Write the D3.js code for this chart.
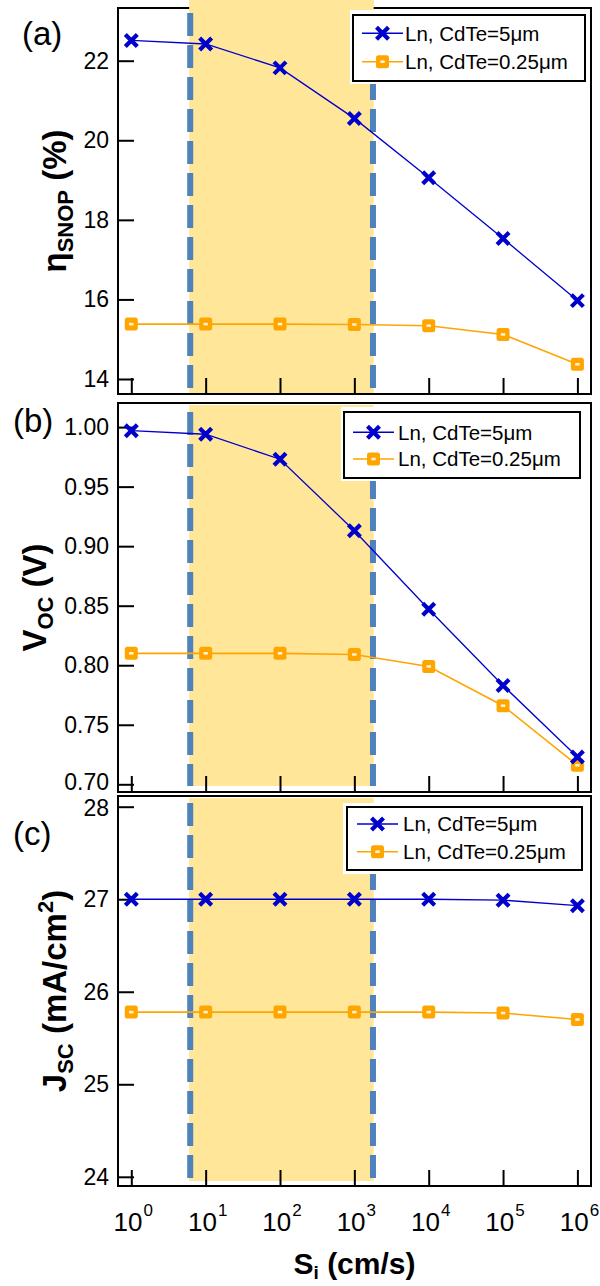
<!DOCTYPE html>
<html><head><meta charset="utf-8">
<script src="https://cdn.jsdelivr.net/npm/d3@7"></script>
<style>body{margin:0;background:#fff}</style>
</head><body>
<svg id="chart" width="600" height="1286"></svg>
<script>
// ---------------- data ----------------
const sValues = [1, 10, 100, 1000, 10000, 100000, 1000000];
const xTickExponents = ["0", "1", "2", "3", "4", "5", "6"];
const seriesNames = ["Ln, CdTe=5\u03bcm", "Ln, CdTe=0.25\u03bcm"];
const etaThick = [22.51, 22.42, 21.82, 20.55, 19.06, 17.53, 15.97];
const etaThin  = [15.38, 15.38, 15.38, 15.37, 15.34, 15.12, 14.37];
const vocThick = [0.997, 0.994, 0.973, 0.913, 0.847, 0.783, 0.723];
const vocThin  = [0.810, 0.810, 0.810, 0.809, 0.799, 0.766, 0.716];
const jscThick = [27.00, 27.00, 27.00, 27.00, 27.00, 26.99, 26.93];
const jscThin  = [25.78, 25.78, 25.78, 25.78, 25.78, 25.77, 25.70];
const etaTicks = [14, 16, 18, 20, 22];
const vocTicks = [0.70, 0.75, 0.80, 0.85, 0.90, 0.95, 1.00];
const jscTicks = [24, 25, 26, 27, 28];
const shadeRange = [6, 1820];
const dashPositions = [6.2, 1780];
const panelLetters = ["(a)", "(b)", "(c)"];

// ---------------- style ----------------
const FONT = "'Liberation Sans', Arial, sans-serif";
const BLUE = "#0000cc";
const ORANGE = "#ffa500";
const SHADE = "#ffe699";
const DASH = "#4f81bd";

const svg = d3.select("#chart");
const FL = 118, FR = 591;
const x = d3.scaleLog().domain([1, 1e6]).range([131.3, 577.4]);

const panels = [
  { top: 8, bottom: 394, thick: etaThick, thin: etaThin, ticks: etaTicks, fmt: d3.format("d"),
    y: d3.scaleLinear().domain([14, 22]).range([379, 60.7]), lowShift: 0, highShift: 0,
    shadeTop: 0, shadeBot: 393, dashTop: 13, dashBot: 389,
    letter: { x: 22, y: 45 },
    title: { x: 66, parts: [["\u03b7", 0], ["SNOP", 1], [" (%)", -1]] },
    legend: { bg: [350, 10, 240, 74], box: [353, 15, 232, 66], line: [362, 403], rows: [33.3, 61.7], tx: 405 } },
  { top: 403, bottom: 792, thick: vocThick, thin: vocThin, ticks: vocTicks, fmt: d3.format(".2f"),
    y: d3.scaleLinear().domain([0.70, 1.00]).range([784.3, 427.1]), lowShift: -2.5, highShift: 0,
    shadeTop: 405, shadeBot: 786, dashTop: 412, dashBot: 786,
    letter: { x: 13, y: 432 },
    title: { x: 46, parts: [["V", 0], ["OC", 1], [" (V)", -1]] },
    legend: { bg: [341, 407, 245, 74], box: [344, 412, 236, 66], line: [353, 394], rows: [432.3, 459], tx: 398 } },
  { top: 796, bottom: 1186, thick: jscThick, thin: jscThin, ticks: jscTicks, fmt: d3.format("d"),
    y: d3.scaleLinear().domain([24, 28]).range([1176.8, 806.7]), lowShift: 0, highShift: 1.8,
    shadeTop: 798, shadeBot: 1181, dashTop: 803, dashBot: 1182,
    letter: { x: 13, y: 845 },
    title: { x: 66, parts: [["J", 0], ["SC", 1], [" (mA/cm", -1], ["2", 2], [")", -2]] },
    legend: { bg: [343, 803, 243, 71], box: [347, 807, 235, 63], line: [357, 398], rows: [824, 851.7], tx: 403 } }
];

function drawX(g, cx, cy, s) {
  g.append("path")
    .attr("d", `M${cx - s},${cy - s}L${cx + s},${cy + s}M${cx - s},${cy + s}L${cx + s},${cy - s}`)
    .attr("stroke", BLUE).attr("stroke-width", 4.2).attr("fill", "none");
}
function drawSq(g, cx, cy) {
  g.append("rect").attr("x", cx - 6.5).attr("y", cy - 6.5).attr("width", 13).attr("height", 13)
    .attr("rx", 2.5).attr("fill", ORANGE);
  g.append("rect").attr("x", cx - 2.2).attr("y", cy - 1.3).attr("width", 4.4).attr("height", 2.6)
    .attr("fill", "#fff").attr("opacity", 0.85);
}

panels.forEach((p, i) => {
  const g = svg.append("g");
  const cy = (p.top + p.bottom) / 2;

  // shaded interval
  g.append("rect")
    .attr("x", x(shadeRange[0])).attr("y", p.shadeTop)
    .attr("width", x(shadeRange[1]) - x(shadeRange[0])).attr("height", p.shadeBot - p.shadeTop)
    .attr("fill", SHADE);

  // frame
  g.append("rect").attr("x", FL).attr("y", p.top).attr("width", FR - FL).attr("height", p.bottom - p.top)
    .attr("fill", "none").attr("stroke", "#000").attr("stroke-width", 2);
  if (i === 0) {
    g.append("rect")
      .attr("x", x(shadeRange[0])).attr("y", p.shadeTop)
      .attr("width", x(shadeRange[1]) - x(shadeRange[0])).attr("height", 10)
      .attr("fill", SHADE);
  }

  // dashed boundaries
  dashPositions.forEach(v => {
    g.append("line").attr("x1", x(v)).attr("x2", x(v)).attr("y1", p.dashTop).attr("y2", p.dashBot)
      .attr("stroke", DASH).attr("stroke-width", 6).attr("stroke-dasharray", "23,9");
  });

  // y axis
  const ya = g.append("g").attr("transform", `translate(${FL},0)`)
    .call(d3.axisLeft(p.y).tickValues(p.ticks).tickFormat(p.fmt).tickSize(-16).tickPadding(9));
  ya.select(".domain").remove();
  ya.selectAll(".tick line").attr("stroke", "#000").attr("stroke-width", 2);
  const lo = d3.min(p.ticks), hi = d3.max(p.ticks);
  ya.selectAll(".tick text").attr("font-family", FONT).attr("font-size", 23).attr("fill", "#000")
    .attr("y", d => d === lo ? p.lowShift : (d === hi ? p.highShift : 0));

  // x axis
  const xa = g.append("g").attr("transform", `translate(0,${p.bottom})`)
    .call(d3.axisBottom(x).tickValues(sValues).tickFormat("").tickSize(-16));
  xa.select(".domain").remove();
  xa.selectAll(".tick line").attr("stroke", "#000").attr("stroke-width", 2);
  xa.selectAll(".tick text").remove();

  // series
  const line = d3.line().x((d, k) => x(sValues[k])).y(d => p.y(d));
  g.append("path").attr("d", line(p.thin)).attr("fill", "none").attr("stroke", ORANGE).attr("stroke-width", 1.6);
  g.append("path").attr("d", line(p.thick)).attr("fill", "none").attr("stroke", BLUE).attr("stroke-width", 1.3);
  p.thin.forEach((d, k) => drawSq(g, x(sValues[k]), p.y(d)));
  p.thick.forEach((d, k) => drawX(g, x(sValues[k]), p.y(d), 6));

  // legend
  const L = p.legend;
  g.append("rect").attr("x", L.bg[0]).attr("y", L.bg[1]).attr("width", L.bg[2]).attr("height", L.bg[3]).attr("fill", "#fff");
  g.append("rect").attr("x", L.box[0]).attr("y", L.box[1]).attr("width", L.box[2]).attr("height", L.box[3])
    .attr("fill", "#fff").attr("stroke", "#000").attr("stroke-width", 2);
  const mid = (L.line[0] + L.line[1]) / 2;
  [0, 1].forEach(k => {
    const yy = L.rows[k];
    g.append("line").attr("x1", L.line[0]).attr("x2", L.line[1]).attr("y1", yy).attr("y2", yy)
      .attr("stroke", k === 0 ? BLUE : ORANGE).attr("stroke-width", 1.6);
    if (k === 0) drawX(g, mid, yy, 6); else drawSq(g, mid, yy);
    g.append("text").attr("x", L.tx).attr("y", yy).attr("dy", "0.36em")
      .attr("font-family", FONT).attr("font-size", 20.5).attr("fill", "#000").text(seriesNames[k]);
  });

  // panel letter
  g.append("text").attr("x", p.letter.x).attr("y", p.letter.y)
    .attr("font-family", FONT).attr("font-size", 33).attr("fill", "#000").text(panelLetters[i]);

  // y title
  const t = g.append("text").attr("transform", `translate(${p.title.x},${cy}) rotate(-90)`)
    .attr("text-anchor", "middle").attr("font-family", FONT).attr("font-weight", "bold")
    .attr("font-size", 33).attr("fill", "#000");
  p.title.parts.forEach(([s, mode]) => {
    const ts = t.append("tspan").text(s);
    if (mode === 1) ts.attr("font-size", 22).attr("dy", 7);
    if (mode === -1) ts.attr("dy", -7);
    if (mode === 2) ts.attr("font-size", 22).attr("dy", -13);
    if (mode === -2) ts.attr("dy", 13);
  });
});

// x tick labels (bottom panel)
const xl = svg.append("g");
sValues.forEach((v, k) => {
  const t = xl.append("text").attr("x", x(v) + 2).attr("y", 1231).attr("text-anchor", "middle")
    .attr("font-family", FONT).attr("font-size", 26).attr("fill", "#000");
  t.append("tspan").text("10");
  t.append("tspan").attr("font-size", 17).attr("dy", -15).attr("dx", 1).text(xTickExponents[k]);
});

// x title
const xt = svg.append("text").attr("x", (FL + FR) / 2).attr("y", 1274).attr("text-anchor", "middle")
  .attr("font-family", FONT).attr("font-weight", "bold").attr("font-size", 30).attr("fill", "#000");
xt.append("tspan").text("S");
xt.append("tspan").attr("font-size", 19).attr("dy", 5).text("i");
xt.append("tspan").attr("dy", -5).text(" (cm/s)");
</script>
</body></html>
